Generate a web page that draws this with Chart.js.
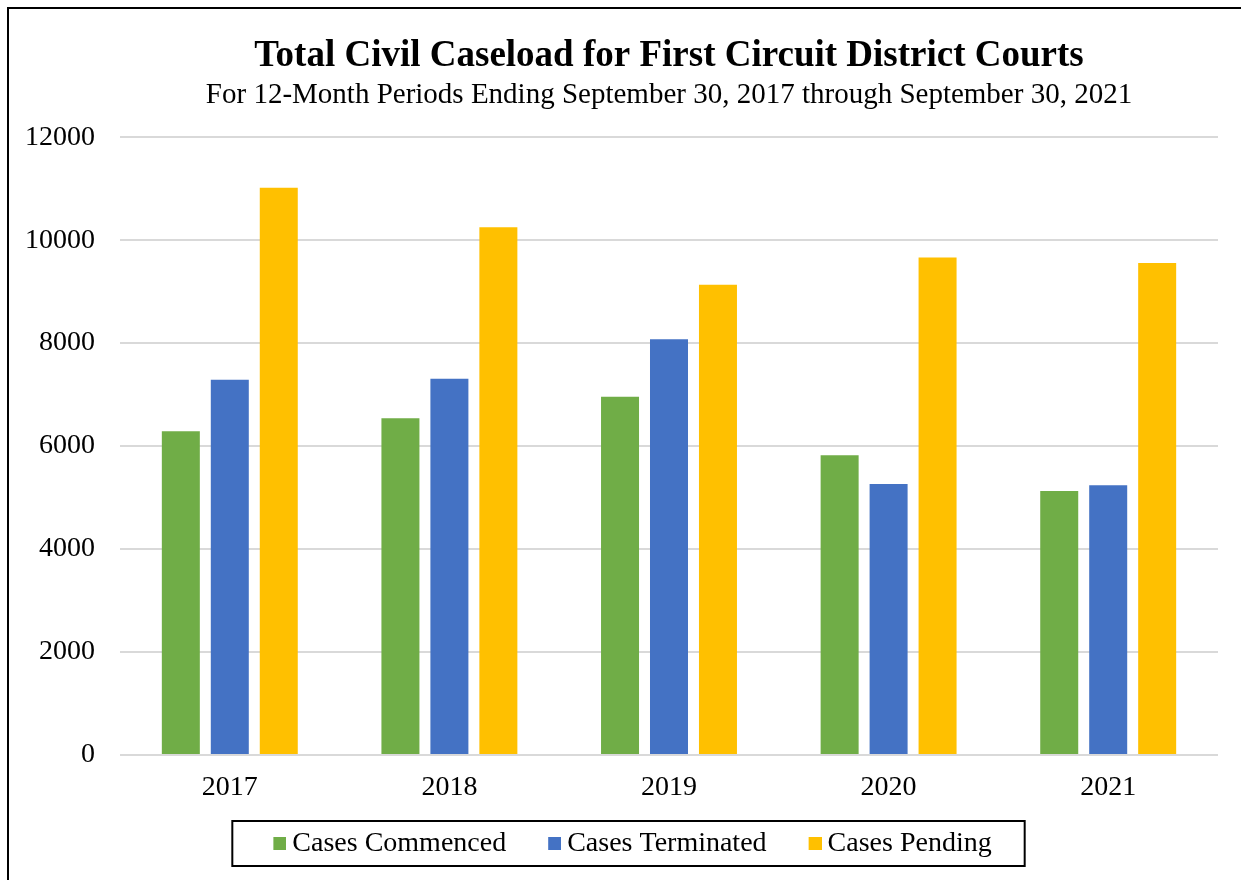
<!DOCTYPE html>
<html>
<head>
<meta charset="utf-8">
<title>Total Civil Caseload for First Circuit District Courts</title>
<script src="https://cdn.jsdelivr.net/npm/chart.js@4.4.1/dist/chart.umd.min.js"></script>
<style>
  html, body { margin: 0; padding: 0; background: #fff; }
  canvas { display: block; }
</style>
</head>
<body>
<canvas id="caseload" width="1241" height="880"></canvas>
<script>
const years = ['2017', '2018', '2019', '2020', '2021'];
const seriesNames = ['Cases Commenced', 'Cases Terminated', 'Cases Pending'];
const commenced = [6290, 6540, 6960, 5820, 5130];
const terminated = [7290, 7310, 8075, 5265, 5240];
const pending = [11020, 10250, 9135, 9665, 9555];
const yTicks = [0, 2000, 4000, 6000, 8000, 10000, 12000];

const colors = ['#70ad47', '#4472c4', '#ffc000'];

Chart.defaults.font.family = '"Liberation Serif", "Times New Roman", serif';
Chart.defaults.color = '#000';

// little swatches for the legend, square sits at the right so the text hugs it
function makeSwatch(color) {
  const c = document.createElement('canvas');
  c.width = 17;
  c.height = 14;
  const g = c.getContext('2d');
  g.fillStyle = color;
  g.fillRect(4, 0, 13, 13);
  return c;
}
const swatches = colors.map(makeSwatch);

const framePlugin = {
  id: 'frame',
  afterLayout(chart) {
    // legend sits a bit right of centre in the original
    chart.legend.left += 51;
    // x axis is squeezed so the legend sits close, let its labels spill below
    chart.scales.x.bottom = chart.scales.x.top + 60;
  },
  beforeDraw(chart) {
    const ctx = chart.ctx;
    ctx.save();
    ctx.fillStyle = '#fff';
    ctx.fillRect(0, 0, chart.width, chart.height);
    ctx.fillStyle = '#000';
    ctx.fillRect(7, 7, chart.width - 7, 2);
    ctx.fillRect(7, 7, 2, chart.height - 7);
    ctx.restore();
  },
  afterDraw(chart) {
    const hb = chart.legend.legendHitBoxes;
    if (!hb || !hb.length) return;
    const first = hb[0];
    const last = hb[hb.length - 1];
    const x1 = first.left - 45;
    const x2 = last.left + last.width + 33;
    const y1 = first.top - 9;
    const y2 = first.top + first.height + 8;
    const ctx = chart.ctx;
    ctx.save();
    ctx.strokeStyle = '#000';
    ctx.lineWidth = 2;
    ctx.strokeRect(x1, y1, x2 - x1, y2 - y1);
    ctx.restore();
  }
};

const datasets = [commenced, terminated, pending].map((values, i) => ({
  label: seriesNames[i],
  data: values,
  backgroundColor: colors[i],
  borderWidth: 0,
  categoryPercentage: 0.669,
  barPercentage: 0.776
}));

new Chart(document.getElementById('caseload'), {
  type: 'bar',
  data: {
    labels: years,
    datasets: datasets
  },
  options: {
    responsive: false,
    animation: false,
    layout: {
      padding: { left: 0, right: 23, top: 0, bottom: 12 }
    },
    plugins: {
      title: {
        display: true,
        fullSize: false,
        text: 'Total Civil Caseload for First Circuit District Courts',
        color: '#000',
        font: { size: 37, weight: 'bold' },
        padding: { top: 34, bottom: 0 }
      },
      subtitle: {
        display: true,
        fullSize: false,
        text: 'For 12-Month Periods Ending September 30, 2017 through September 30, 2021',
        color: '#000',
        font: { size: 29 },
        padding: { top: 0, bottom: 24 }
      },
      legend: {
        position: 'bottom',
        labels: {
          usePointStyle: true,
          pointStyleWidth: 1,
          boxHeight: 13,
          padding: 46,
          color: '#000',
          font: { size: 28 },
          generateLabels: (chart) =>
            Chart.defaults.plugins.legend.labels.generateLabels(chart)
              .map((item, i) => ({ ...item, pointStyle: swatches[i] }))
        }
      },
      tooltip: { enabled: false }
    },
    scales: {
      x: {
        grid: { display: false, drawTicks: false },
        border: { display: false },
        ticks: { padding: 16, font: { size: 28 }, color: '#000' },
        afterFit: (scale) => { scale.height = 29; }
      },
      y: {
        min: 0,
        max: 12000,
        afterBuildTicks: (scale) => { scale.ticks = yTicks.map(v => ({ value: v })); },
        grid: { color: '#d9d9d9', lineWidth: 2, drawTicks: false },
        border: { display: false },
        ticks: {
          padding: 25,
          font: { size: 28 },
          color: '#000',
          callback: (value) => String(value)
        }
      }
    }
  },
  plugins: [framePlugin]
});
</script>
</body>
</html>
